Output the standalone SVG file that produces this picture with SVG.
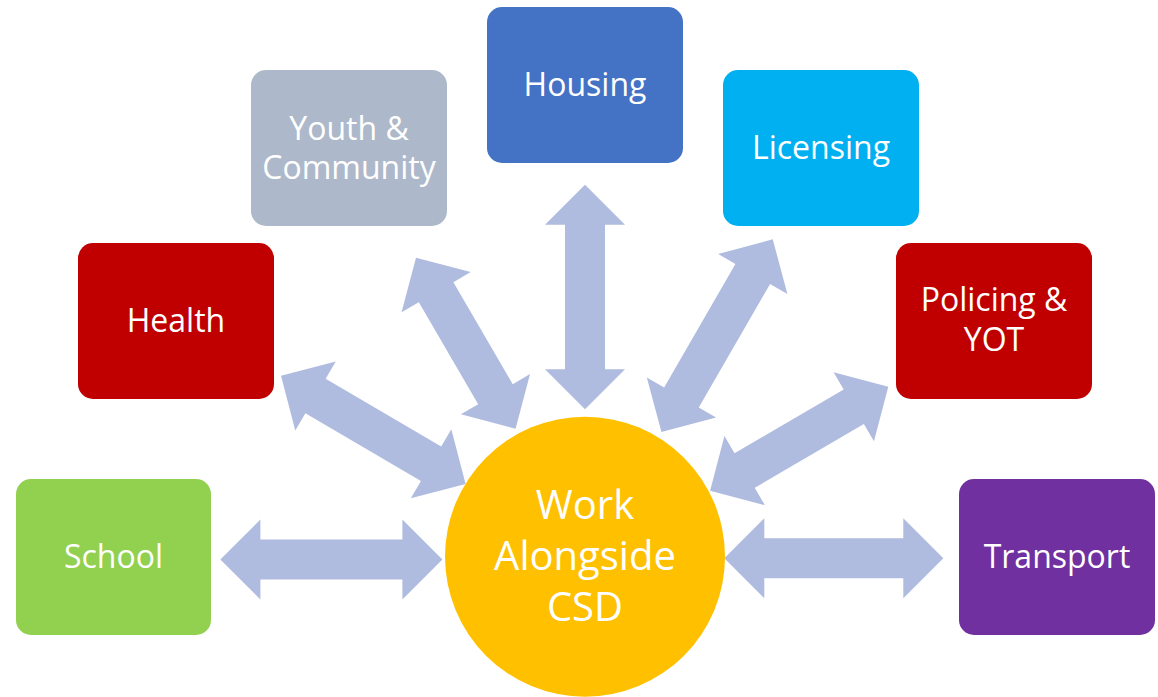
<svg xmlns="http://www.w3.org/2000/svg" width="1158" height="697" viewBox="0 0 1158 697">
<style>
.box{stroke:none}
.lbl{font-family:"Open Sans","Noto Sans","Liberation Sans",sans-serif;font-size:32px;fill:#FFFFFF;text-anchor:middle}
.big{font-size:40px}
.arr{fill:#AFBCDF;stroke:none}
</style>
<rect width="1158" height="697" fill="#FFFFFF"/>
<g id="connectors">
<polygon class="arr" transform="translate(331.4,559.5)" points="-111,0 -71,-40 -71,-20 71,-20 71,-40 111,0 71,40 71,20 -71,20 -71,40"/>
<polygon class="arr" transform="translate(833.8,558.3)" points="-109.5,0 -69.5,-40 -69.5,-20 69.5,-20 69.5,-40 109.5,0 69.5,40 69.5,20 -69.5,20 -69.5,40"/>
<polygon class="arr" transform="translate(585,297) rotate(90)" points="-112.3,0 -72.3,-40 -72.3,-20 72.3,-20 72.3,-40 112.3,0 72.3,40 72.3,20 -72.3,20 -72.3,40"/>
<polygon class="arr" transform="translate(373.3,429.9) rotate(30.4)" points="-107,0 -67,-40 -67,-20 67,-20 67,-40 107,0 67,40 67,20 -67,20 -67,40"/>
<polygon class="arr" transform="translate(465.8,343.2) rotate(59.8)" points="-99,0 -59,-40 -59,-20 59,-20 59,-40 99,0 59,40 59,20 -59,20 -59,40"/>
<polygon class="arr" transform="translate(717.1,335.7) rotate(-60)" points="-111.3,0 -71.3,-40 -71.3,-20 71.3,-20 71.3,-40 111.3,0 71.3,40 71.3,20 -71.3,20 -71.3,40"/>
<polygon class="arr" transform="translate(799.2,438.7) rotate(-30.3)" points="-103.2,0 -63.2,-40 -63.2,-20 63.2,-20 63.2,-40 103.2,0 63.2,40 63.2,20 -63.2,20 -63.2,40"/>
</g>
<g id="school"><rect class="box" x="16" y="479" width="195" height="156" rx="15" fill="#92D050"/><text class="lbl" x="113.5" y="567.5">School</text></g>
<g id="health"><rect class="box" x="78" y="243" width="196" height="156" rx="15" fill="#C00000"/><text class="lbl" x="176" y="331.5">Health</text></g>
<g id="youth"><rect class="box" x="251" y="70" width="196" height="156" rx="15" fill="#ADB9CA"/><text class="lbl" x="349" y="139.5">Youth &amp;</text><text class="lbl" x="349" y="178.5">Community</text></g>
<g id="housing"><rect class="box" x="487" y="7" width="196" height="156" rx="15" fill="#4472C4"/><text class="lbl" x="585" y="96">Housing</text></g>
<g id="licensing"><rect class="box" x="723" y="70" width="196" height="156" rx="15" fill="#00B0F0"/><text class="lbl" x="821" y="159">Licensing</text></g>
<g id="policing"><rect class="box" x="896" y="243" width="196" height="156" rx="15" fill="#C00000"/><text class="lbl" x="994" y="311">Policing &amp;</text><text class="lbl" x="994" y="351">YOT</text></g>
<g id="transport"><rect class="box" x="959" y="479" width="196" height="156" rx="15" fill="#7030A0"/><text class="lbl" x="1057" y="567.5">Transport</text></g>
<g id="center"><circle cx="585" cy="556.7" r="140" fill="#FFC000"/><text class="lbl big" x="585" y="518.5">Work</text><text class="lbl big" x="585" y="569.5">Alongside</text><text class="lbl big" x="585" y="621">CSD</text></g>
</svg>
